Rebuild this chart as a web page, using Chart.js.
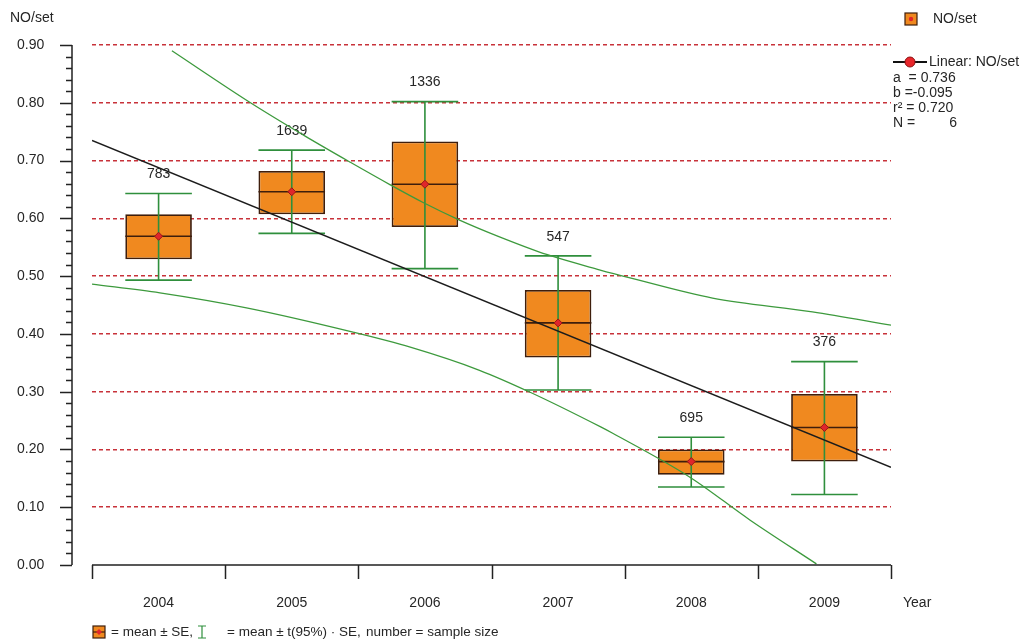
<!DOCTYPE html>
<html>
<head>
<meta charset="utf-8">
<script src="https://cdn.jsdelivr.net/npm/chart.js@4"></script>
<style>
html,body{margin:0;padding:0;background:#fff;}
#wrap{width:1025px;height:643px;}
</style>
</head>
<body>
<div id="wrap"><canvas id="c" width="1025" height="643"></canvas></div>
<script>
// ---- data ----
const years = ['2004','2005','2006','2007','2008','2009'];
const sampleSizes = [783, 1639, 1336, 547, 695, 376];
const means = [0.569, 0.646, 0.659, 0.419, 0.179, 0.238];
const seLow = [0.529, 0.607, 0.585, 0.359, 0.156, 0.179];
const seHigh = [0.607, 0.682, 0.733, 0.476, 0.200, 0.296];
const ciLow = [0.493, 0.574, 0.513, 0.303, 0.135, 0.122];
const ciHigh = [0.643, 0.718, 0.802, 0.535, 0.221, 0.352];

// regression line (end points)
const regX = [-0.5, 5.5];
const regY = [0.735, 0.169];
// confidence band curves (x in category units, 2004 = 0)
const upperX = [0.10, 0.69, 1.11, 1.44, 1.74, 1.99, 2.26, 2.56, 2.92, 3.31, 3.54, 4.16, 4.91, 5.50];
const upperY = [0.890, 0.800, 0.741, 0.697, 0.658, 0.627, 0.597, 0.568, 0.537, 0.511, 0.497, 0.462, 0.438, 0.415];
const lowerX = [-0.50, 0.01, 0.66, 1.46, 1.89, 2.41, 2.79, 3.32, 3.41, 3.99, 4.44, 4.94];
const lowerY = [0.486, 0.471, 0.445, 0.403, 0.377, 0.337, 0.299, 0.239, 0.228, 0.152, 0.078, 0.002];

// legend statistics
const statLabels = ['a  = 0.736', 'b =-0.095', 'r\u00b2 = 0.720', 'N ='];
const statN = '6';

const yTickValues = [0, 0.1, 0.2, 0.3, 0.4, 0.5, 0.6, 0.7, 0.8, 0.9];

const FONT = '"Liberation Sans", Arial, sans-serif';
const TXT = '#262626';
const ORANGE = '#F0891F';
const BROWN = '#3e1e0c';
const GREEN = '#2f8f3c';
const RED = '#e0262b';

const pts = (xs, ys) => xs.map((x, i) => ({x: x, y: ys[i]}));

const decor = {
  id: 'decor',
  afterDatasetDraw(chart, args) {
    if (args.index !== 0) return;
    const ctx = chart.ctx;
    const xs = chart.scales.x, ys = chart.scales.y;
    const meta = chart.getDatasetMeta(0);
    ctx.save();
    years.forEach((yr, i) => {
      const bar = meta.data[i];
      const xc = xs.getPixelForValue(i);
      const hw = bar.width / 2;
      // mean line across box
      ctx.strokeStyle = BROWN; ctx.lineWidth = 1.6;
      ctx.beginPath();
      ctx.moveTo(xc - hw, ys.getPixelForValue(means[i]));
      ctx.lineTo(xc + hw, ys.getPixelForValue(means[i]));
      ctx.stroke();
      // whisker
      const yt = ys.getPixelForValue(ciHigh[i]), yb = ys.getPixelForValue(ciLow[i]);
      ctx.strokeStyle = GREEN; ctx.lineWidth = 1.6;
      ctx.beginPath();
      ctx.moveTo(xc, yt); ctx.lineTo(xc, yb);
      ctx.moveTo(xc - hw, yt); ctx.lineTo(xc + hw, yt);
      ctx.moveTo(xc - hw, yb); ctx.lineTo(xc + hw, yb);
      ctx.stroke();
      // sample size label
      ctx.fillStyle = TXT; ctx.font = '14px ' + FONT;
      ctx.textAlign = 'center'; ctx.textBaseline = 'middle';
      ctx.fillText(String(sampleSizes[i]), xc, yt - 19);
    });
    ctx.restore();
  },
  afterDraw(chart) {
    const ctx = chart.ctx;
    const ca = chart.chartArea;
    const ys = chart.scales.y, x2 = chart.scales.x2;
    ctx.save();
    ctx.strokeStyle = '#222'; ctx.lineWidth = 1.5;
    // y axis
    const ax = ca.left - 20;
    ctx.beginPath();
    ctx.moveTo(ax, ys.getPixelForValue(0.9)); ctx.lineTo(ax, ys.getPixelForValue(0));
    for (let k = 0; k <= 45; k++) {
      const v = k * 0.02;
      const yy = Math.round(ys.getPixelForValue(v)) + 0.5;
      const len = (k % 5 === 0) ? 12 : 6;
      ctx.moveTo(ax - len, yy); ctx.lineTo(ax, yy);
    }
    ctx.stroke();
    // x axis
    const y0 = ys.getPixelForValue(0);
    ctx.beginPath();
    ctx.moveTo(ca.left, y0); ctx.lineTo(ca.right, y0);
    for (let i = 0; i <= years.length; i++) {
      const xx = Math.round(x2.getPixelForValue(i - 0.5)) + 0.5;
      ctx.moveTo(xx, y0); ctx.lineTo(xx, y0 + 14);
    }
    ctx.stroke();

    // texts
    ctx.fillStyle = TXT; ctx.textBaseline = 'middle'; ctx.textAlign = 'left';
    ctx.font = '14px ' + FONT;
    ctx.fillText('NO/set', 10, 18);
    ctx.fillText('Year', 903, 603);

    // top-right legend
    ctx.fillStyle = ORANGE; ctx.fillRect(905, 13, 12, 12);
    ctx.strokeStyle = BROWN; ctx.lineWidth = 1.2; ctx.strokeRect(905, 13, 12, 12);
    ctx.fillStyle = RED; ctx.beginPath(); ctx.arc(911, 19, 2.2, 0, Math.PI * 2); ctx.fill();
    ctx.fillStyle = TXT; ctx.fillText('NO/set', 933, 19);

    ctx.strokeStyle = '#111'; ctx.lineWidth = 1.8;
    ctx.beginPath(); ctx.moveTo(893, 62); ctx.lineTo(927, 62); ctx.stroke();
    ctx.fillStyle = '#e8262b'; ctx.strokeStyle = '#8a1010'; ctx.lineWidth = 1;
    ctx.beginPath(); ctx.arc(910, 62, 5, 0, Math.PI * 2); ctx.fill(); ctx.stroke();
    ctx.fillStyle = TXT; ctx.fillText('Linear: NO/set', 929, 62);
    const sy = [78, 93, 108, 123];
    statLabels.forEach((s, i) => ctx.fillText(s, 893, sy[i]));
    ctx.textAlign = 'right'; ctx.fillText(statN, 957, 123);

    // bottom legend
    ctx.textAlign = 'left'; ctx.font = '13.5px ' + FONT;
    ctx.fillStyle = ORANGE; ctx.fillRect(93, 626, 12, 12);
    ctx.strokeStyle = BROWN; ctx.lineWidth = 1.2; ctx.strokeRect(93, 626, 12, 12);
    ctx.beginPath(); ctx.moveTo(93, 632); ctx.lineTo(105, 632); ctx.stroke();
    ctx.fillStyle = RED; ctx.beginPath();
    ctx.moveTo(99, 629); ctx.lineTo(102, 632); ctx.lineTo(99, 635); ctx.lineTo(96, 632); ctx.closePath(); ctx.fill();
    ctx.fillStyle = TXT; ctx.fillText('= mean \u00b1 SE,', 111, 632);
    ctx.strokeStyle = GREEN; ctx.lineWidth = 1.2;
    ctx.beginPath();
    ctx.moveTo(202, 626); ctx.lineTo(202, 638);
    ctx.moveTo(198, 626); ctx.lineTo(206, 626);
    ctx.moveTo(198, 638); ctx.lineTo(206, 638);
    ctx.stroke();
    ctx.fillText('= mean \u00b1 t(95%) \u00b7 SE,', 227, 632);
    ctx.fillText('number = sample size', 366, 632);
    ctx.restore();
  }
};

new Chart(document.getElementById('c'), {
  type: 'bar',
  data: {
    labels: years,
    datasets: [
      {
        type: 'bar', label: 'NO/set',
        data: seLow.map((lo, i) => [lo, seHigh[i]]),
        backgroundColor: ORANGE, borderColor: BROWN, borderWidth: 1.8, borderSkipped: false,
        barPercentage: 0.5, categoryPercentage: 1.0, grouped: false,
        xAxisID: 'x', yAxisID: 'y', order: 5
      },
      {
        type: 'line', label: 'Linear',
        data: pts(regX, regY),
        borderColor: '#1c1c1c', borderWidth: 1.5, pointRadius: 0, fill: false,
        xAxisID: 'x2', yAxisID: 'y', order: 2
      },
      {
        type: 'line', label: 'upper',
        data: pts(upperX, upperY),
        borderColor: '#3d9a3d', borderWidth: 1.3, pointRadius: 0, fill: false,
        cubicInterpolationMode: 'monotone',
        xAxisID: 'x2', yAxisID: 'y', order: 3
      },
      {
        type: 'line', label: 'lower',
        data: pts(lowerX, lowerY),
        borderColor: '#3d9a3d', borderWidth: 1.3, pointRadius: 0, fill: false,
        cubicInterpolationMode: 'monotone',
        xAxisID: 'x2', yAxisID: 'y', order: 3
      },
      {
        type: 'line', label: 'mean',
        data: means,
        showLine: false, pointStyle: 'rectRot', pointRadius: 4,
        pointBackgroundColor: RED, pointBorderColor: '#9a1515', pointBorderWidth: 1,
        xAxisID: 'x', yAxisID: 'y', order: 0
      }
    ]
  },
  options: {
    responsive: false,
    animation: false,
    devicePixelRatio: 1,
    layout: { padding: { top: 45, right: 134, bottom: 0, left: 17 } },
    plugins: { legend: { display: false }, tooltip: { enabled: false } },
    scales: {
      x: {
        type: 'category', position: 'bottom', offset: true,
        grid: { display: false, drawTicks: false },
        border: { display: false },
        ticks: { padding: 30, color: TXT, font: { size: 14, family: FONT } },
        afterFit(s) { s.height = 78; }
      },
      x2: {
        type: 'linear', display: false, min: -0.5, max: 5.5, offset: false,
        grid: { offset: false }
      },
      y: {
        type: 'linear', position: 'left', min: 0, max: 0.9,
        afterBuildTicks(s) { s.ticks = yTickValues.map(v => ({value: v})); },
        ticks: {
          padding: 0, crossAlign: 'far', color: TXT, font: { size: 14, family: FONT },
          callback: v => Number(v).toFixed(2)
        },
        grid: {
          drawTicks: false, lineWidth: 1.5,
          color: c => (c.tick && c.tick.value === 0) ? 'rgba(0,0,0,0)' : '#c8323a',
          borderDash: [4, 3]
        },
        border: { display: false, dash: [4, 3] },
        afterFit(s) { s.width = 75; }
      }
    }
  },
  plugins: [decor]
});
</script>
</body>
</html>
